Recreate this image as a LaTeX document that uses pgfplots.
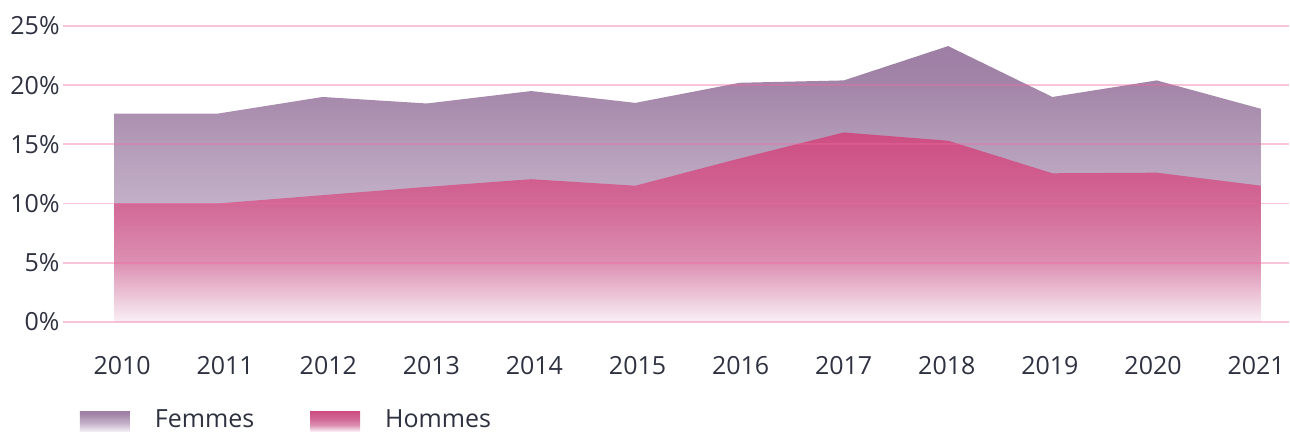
\documentclass[border=0pt]{standalone}
\usepackage{fontspec}
\setmainfont{Open Sans}
\usepackage{pgfplots}
\pgfplotsset{compat=1.18}
\definecolor{txt}{HTML}{2E3140}
\definecolor{gridc}{HTML}{F06AA0}
\definecolor{f0}{HTML}{F3EEF5}
\definecolor{f10}{HTML}{C3B0C8}
\definecolor{f15}{HTML}{B49CB8}
\definecolor{f20}{HTML}{A385A9}
\definecolor{f23}{HTML}{9E7EA4}
\definecolor{h0}{HTML}{F9F0F5}
\definecolor{h5}{HTML}{DC90B2}
\definecolor{h10}{HTML}{D26896}
\definecolor{h16}{HTML}{CD4D82}
% stops placed for each shape's own bounding box (25bp = 0%, 75bp = top of shape)
\pgfdeclareverticalshading{fem}{100bp}{color(0bp)=(f0); color(25bp)=(f0); color(46.5bp)=(f10); color(57.2bp)=(f15); color(67.9bp)=(f20); color(75bp)=(f23); color(100bp)=(f23)}
\pgfdeclareverticalshading{hom}{100bp}{color(0bp)=(h0); color(25bp)=(h0); color(40.6bp)=(h5); color(56.25bp)=(h10); color(75bp)=(h16); color(100bp)=(h16)}
\begin{document}
\begin{tikzpicture}
\begin{axis}[
  at={(0pt,0pt)}, anchor=south west,
  scale only axis, width=613.5pt, height=148pt,
  xmin=2009.51, xmax=2021.27, ymin=0, ymax=25,
  axis line style={draw=none}, axis on top,
  ymajorgrids, grid style={gridc, line width=0.9pt, opacity=0.4},
  ytick={0,5,10,15,20,25},
  yticklabels={0\%,5\%,10\%,15\%,20\%,25\%},
  xtick={2010.077,2011.066,2012.055,2013.043,2014.032,2015.021,2016.010,2016.998,2017.987,2018.976,2019.965,2020.954},
  xticklabels={2010,2011,2012,2013,2014,2015,2016,2017,2018,2019,2020,2021},
  major tick length=0pt,
  tick label style={font=\fontsize{12.5}{14}\selectfont, text=txt},
  yticklabel style={anchor=east, inner sep=0pt, xshift=-1.5pt},
  xticklabel style={anchor=base, inner sep=0pt, yshift=-26.5pt},
  legend columns=2,
  legend style={at={(0,0)}, anchor=west, xshift=8.5pt, yshift=-49.5pt,
    draw=none, fill=none, inner sep=0pt, outer sep=0pt,
    font=\fontsize{12.5}{14}\selectfont, text=txt,
    nodes={inner sep=0pt},
    /tikz/every odd column/.append style={column sep=12.5pt},
    /tikz/every even column/.append style={column sep=28pt}},
  legend cell align=left,
  legend image code/.code={\fill[#1] (0pt,-5.5pt) rectangle (25pt,4.5pt);},
]
\addplot[draw=none, shading=fem] coordinates {
(2010,17.6) (2011,17.6) (2012,19.0) (2013,18.45) (2014,19.5) (2015,18.5)
(2016,20.2) (2017,20.4) (2018,23.3) (2019,19.0) (2020,20.4) (2021,18.0)} \closedcycle;
\addlegendentry{Femmes}
\addplot[draw=none, shading=hom] coordinates {
(2010,10.0) (2011,10.0) (2012,10.7) (2013,11.4) (2014,12.05) (2015,11.5)
(2016,13.8) (2017,16.0) (2018,15.3) (2019,12.55) (2020,12.6) (2021,11.5)} \closedcycle;
\addlegendentry{Hommes}
\end{axis}
\path[use as bounding box] (-31.5pt,-55pt) rectangle (613.5pt,161pt);
\end{tikzpicture}
\end{document}
